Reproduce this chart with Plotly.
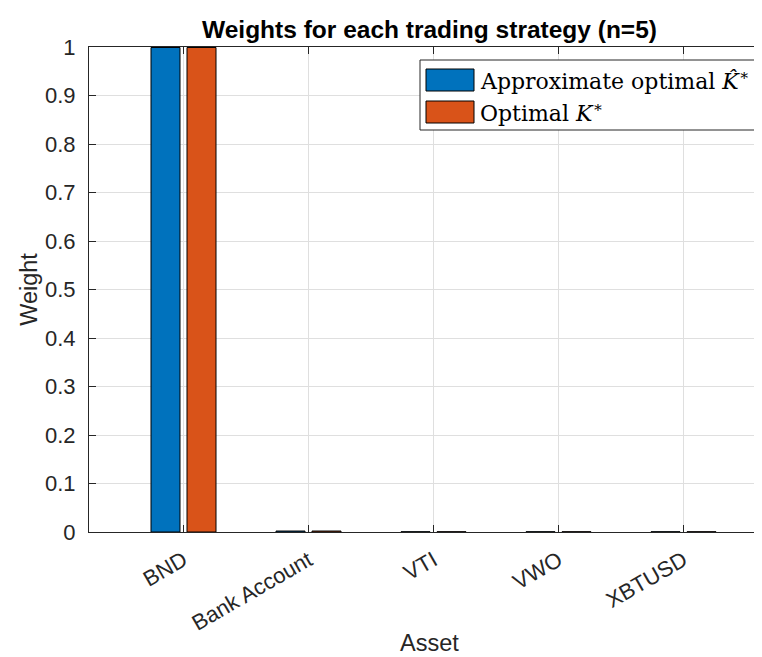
import plotly.graph_objects as go

# ---- data ----
assets = ["BND", "Bank Account", "VTI", "VWO", "XBTUSD"]
approx_weights = [0.999, 0.002, 0.0005, 0.0005, 0.0005]
optimal_weights = [0.999, 0.002, 0.0005, 0.0005, 0.0005]
series_names = ["Approximate optimal <i>K̂</i><sup>∗</sup>", "Optimal <i>K</i><sup>∗</sup>"]
series_colors = ["#0072BD", "#D95319"]
yticks = [0, 0.1, 0.2, 0.3, 0.4, 0.5, 0.6, 0.7, 0.8, 0.9, 1]
ytick_labels = ["0", "0.1", "0.2", "0.3", "0.4", "0.5", "0.6", "0.7", "0.8", "0.9", "1"]

W, H = 762, 657
L, R, T, B = 81, 0, 39, 133
pw, ph = W - L - R, H - T - B

xpos = list(range(1, len(assets) + 1))
unit = 125.0  # px per category
x0 = 1 - 94.5 / unit
x1 = x0 + pw / unit

bar_w = 29 / unit
offsets = [-32.5 / unit, 3.5 / unit]

fig = go.Figure()
for name, vals, col, off in zip(series_names, [approx_weights, optimal_weights], series_colors, offsets):
    fig.add_trace(go.Bar(
        x=xpos, y=vals, name=name, width=bar_w, offset=off,
        marker=dict(color=col, line=dict(color="#000000", width=1)),
        showlegend=False,
    ))

axis_col = "#262626"
grid_col = "#dfdfdf"
tick_fs = 22
lab_fs = 23.5

fig.update_layout(
    width=W, height=H,
    margin=dict(l=L, r=R, t=T, b=B, autoexpand=False),
    plot_bgcolor="white", paper_bgcolor="white",
    barmode="overlay",
    font=dict(family="Liberation Sans, Arial, sans-serif", size=tick_fs, color=axis_col),
    title=dict(text="<b>Weights for each trading strategy (n=5)</b>",
               x=(L + pw / 2) / W, xanchor="center", y=1 - 21 / H, yanchor="middle",
               font=dict(size=24.5, color="#000000")),
    xaxis=dict(
        range=[x0, x1], tickvals=xpos, ticktext=assets, tickangle=-30,
        showgrid=True, gridcolor=grid_col, gridwidth=1,
        showline=True, linecolor=axis_col, linewidth=1, mirror="ticks",
        ticks="inside", ticklen=7, tickcolor=axis_col,
        ticklabelstandoff=6,
        zeroline=False,
        title=dict(text="Asset", standoff=0, font=dict(size=lab_fs)),
        tickfont=dict(size=tick_fs),
    ),
    yaxis=dict(
        range=[0, 1], tickvals=yticks, ticktext=ytick_labels,
        showgrid=True, gridcolor=grid_col, gridwidth=1,
        showline=True, linecolor=axis_col, linewidth=1,
        ticks="inside", ticklen=7, tickcolor=axis_col,
        ticklabelstandoff=8,
        zeroline=False,
        title=dict(text="Weight", standoff=0, font=dict(size=lab_fs)),
        tickfont=dict(size=tick_fs),
    ),
)

# ---- custom legend (MATLAB style) ----
def px(xp):
    return (xp - L) / pw

def py(yp):
    return (H - B - yp) / ph

shapes = [dict(type="rect", xref="paper", yref="paper",
               x0=px(412), x1=px(758), y0=py(122), y1=py(52),
               line=dict(color="#262626", width=1), fillcolor="white", layer="above")]
annotations = []
rows = [72, 104]
for name, col, yc in zip(series_names, series_colors, rows):
    shapes.append(dict(type="rect", xref="paper", yref="paper",
                       x0=px(418), x1=px(466), y0=py(yc + 11), y1=py(yc - 11),
                       line=dict(color="#000000", width=1), fillcolor=col, layer="above"))
    annotations.append(dict(xref="paper", yref="paper", x=px(470), y=py(yc),
                            xanchor="left", yanchor="middle", showarrow=False,
                            text=name, font=dict(family="DejaVu Serif, serif", size=22, color="#000000")))
fig.update_layout(shapes=shapes, annotations=annotations)

fig.write_html("out.html")
